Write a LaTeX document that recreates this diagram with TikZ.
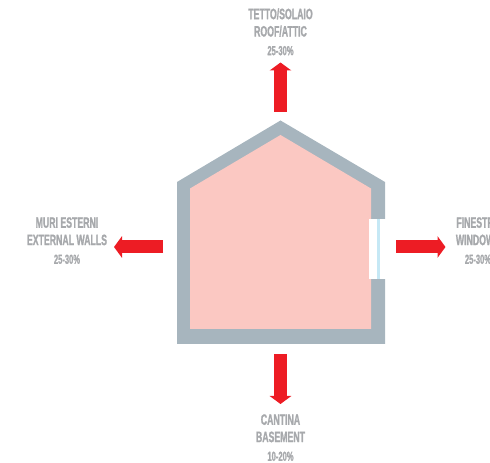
\documentclass[tikz,border=0pt]{standalone}
\usepackage{fontspec}
\usepackage{xcolor}
\usetikzlibrary{arrows.meta,positioning,calc}
\setmainfont[FakeStretch=0.58,FakeBold=1.2]{Liberation Sans Bold}
\definecolor{wallGrey}{HTML}{A7B5BE}
\definecolor{roomPink}{HTML}{FBC8C2}
\definecolor{lossRed}{HTML}{ED1C24}
\definecolor{glassBlue}{HTML}{C5E8F5}
\definecolor{labGrey}{HTML}{A7A9AC}
\newcommand{\pct}[1]{{\fontsize{9.8}{10}\selectfont #1}}
\tikzset{
  lossarrow/.style={draw=lossRed,line width=9.75pt,-{Triangle[length=6pt,width=16pt,color=lossRed]}},
  lab/.style={text=labGrey,align=center,inner sep=0pt,font=\fontsize{11.3}{13}\selectfont},
}

\begin{document}
\begin{tikzpicture}[x=0.75pt,y=-0.75pt]
  \useasboundingbox (0,0) rectangle (490,463);

  % house: walls, room
  \fill[wallGrey] (177,182) -- (280.5,120.5) -- (385,182) -- (385,344) -- (177,344) -- cycle;
  \fill[roomPink] (190,188.5) -- (280.5,135) -- (371,188.5) -- (371,329) -- (190,329) -- cycle;

  % window
  \fill[white] (369,219) rectangle (385.5,279);
  \fill[glassBlue] (377,219) rectangle (380,279);

  % arrows
  \coordinate (roofA) at (280.5,112);
  \coordinate (roofB) at (280.5,62.5);
  \coordinate (wallA) at (163,247);
  \coordinate (wallB) at (114,247);
  \coordinate (winA) at (396,247);
  \coordinate (winB) at (445.5,247);
  \coordinate (baseA) at (280.5,354);
  \coordinate (baseB) at (280.5,404);
  \foreach \a/\b in {roofA/roofB,wallA/wallB,winA/winB,baseA/baseB}{
    \draw[lossarrow] (\a) -- (\b);
  }

  % labels
  \node[lab,anchor=north] (roofLab) at (280.5,8) {TETTO/SOLAIO\\ROOF/ATTIC\\[1pt]\pct{25-30\%}};
  \node[lab,anchor=north] (wallLab) at (67,217) {MURI ESTERNI\\EXTERNAL WALLS\\[1pt]\pct{25-30\%}};
  \node[lab,anchor=north] (winLab) at (478,217) {FINESTRE\\WINDOWS\\[1pt]\pct{25-30\%}};
  \node[lab,anchor=north] (baseLab) at (280.5,414) {CANTINA\\BASEMENT\\[1pt]\pct{10-20\%}};
\end{tikzpicture}
\end{document}
